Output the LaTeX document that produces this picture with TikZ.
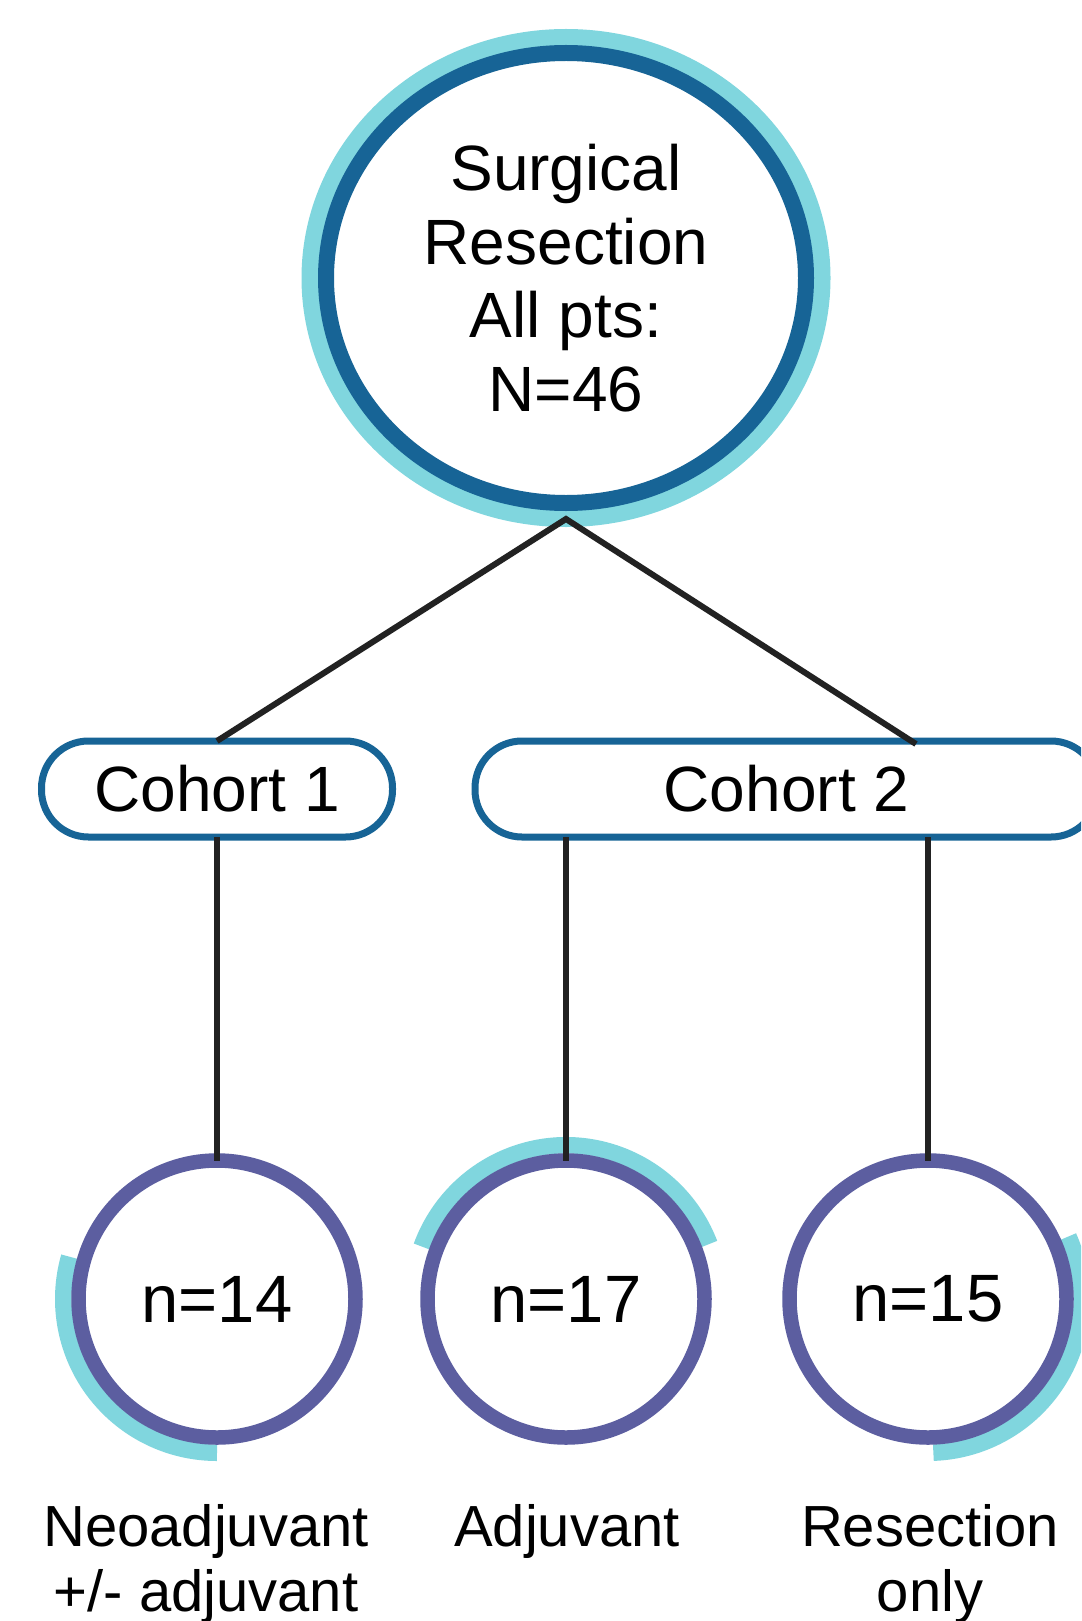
\documentclass[tikz,border=0pt]{standalone}
\usepackage{fontspec}
\setmainfont{Liberation Sans}
\usetikzlibrary{shapes.geometric}
\definecolor{cyanl}{HTML}{80D6DE}
\definecolor{blued}{HTML}{176496}
\definecolor{purp}{HTML}{5C5EA0}
\definecolor{linec}{HTML}{222222}
\begin{document}
\begin{tikzpicture}[x=1pt,y=-1pt,
  conn/.style={draw=linec, line width=6},
  cohortbox/.style={rectangle, rounded corners=47, draw=blued, line width=7, fill=white,
    minimum height=96, inner sep=0, outer sep=0, font=\fontsize{64}{70}\selectfont},
  ncircle/.style={circle, draw=purp, line width=14.5, fill=white, minimum size=277,
    inner sep=0, outer sep=0, font=\fontsize{67}{70}\selectfont},
  halo/.style={draw=cyanl, line width=16.5},
  lab/.style={align=center, anchor=north, inner sep=0, font=\fontsize{58}{65}\selectfont}]
\useasboundingbox (0,0) rectangle (1081,1621);
\fill[white] (0,0) rectangle (1081,1621);
\clip (0,0) rectangle (1081,1621);

% top circle
\fill[cyanl] (566,278) ellipse [x radius=264.5, y radius=249];
\node[ellipse, draw=blued, line width=16, fill=white, minimum width=480, minimum height=450,
  inner sep=0, outer sep=0, align=center, font=\fontsize{64}{73.7}\selectfont]
  (surg) at (566,278) {Surgical\\Resection\\All pts:\\N=46};

% cohort boxes
\node[cohortbox, minimum width=351] (c1) at (217,789) {Cohort 1};
\node[cohortbox, minimum width=623] (c2) at (786.5,789) {Cohort 2};

% halos
\coordinate (h14) at (217,1299);
\coordinate (h17) at (566,1299);
\coordinate (h15) at (928,1299);
\draw[halo] (h14) ++(-164:153.75) arc[start angle=-164, end angle=-270, radius=153.75];
\draw[halo] (h17) ++(-21:153.75) arc[start angle=-21, end angle=-160, radius=153.75];
\draw[halo] (h15) ++(-24:153.75) arc[start angle=-24, end angle=88, radius=153.75];

% bottom circles
\node[ncircle] (n14) at (217,1299) {n=14};
\node[ncircle] (n17) at (566,1299) {n=17};
\node[ncircle] (n15) at (928,1299) {n=15};

% connectors
\coordinate (apex) at (566,519);
\coordinate (c2in) at (916,744);
\draw[conn] (c1.north) -- (apex) -- (c2in);
\draw[conn] (c1.south) -- (n14.north);
\draw[conn] (c2.south -| n17.north) -- (n17.north);
\draw[conn] (c2.south -| n15.north) -- (n15.north);

% labels
\node[lab] (l14) at (206,1504.5) {Neoadjuvant\\+/- adjuvant};
\node[lab] (l17) at (567,1504.5) {Adjuvant};
\node[lab] (l15) at (930,1504.5) {Resection\\only};
\end{tikzpicture}
\end{document}
